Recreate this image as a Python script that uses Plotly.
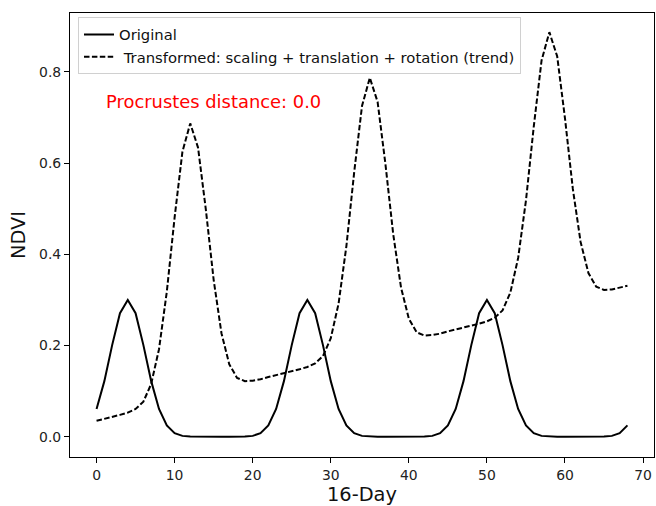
import plotly.graph_objects as go

days = list(range(69))

original = [
    0.061, 0.122, 0.201, 0.271, 0.300, 0.271, 0.201, 0.122, 0.061, 0.025,
    0.008, 0.002, 0.0005, 0.0, 0.0, 0.0, 0.0, 0.0, 0.0, 0.0005,
    0.002, 0.008, 0.025, 0.061, 0.122, 0.201, 0.271, 0.300, 0.271, 0.201,
    0.122, 0.061, 0.025, 0.008, 0.002, 0.0005, 0.0, 0.0, 0.0, 0.0,
    0.0, 0.0, 0.0005, 0.002, 0.008, 0.025, 0.061, 0.122, 0.201, 0.271,
    0.300, 0.271, 0.201, 0.122, 0.061, 0.025, 0.008, 0.002, 0.0005, 0.0,
    0.0, 0.0, 0.0, 0.0, 0.0, 0.0005, 0.002, 0.008, 0.025,
]

transformed = [
    0.035, 0.039, 0.044, 0.048, 0.053, 0.061, 0.077, 0.116, 0.192, 0.318,
    0.481, 0.625, 0.687, 0.634, 0.498, 0.344, 0.227, 0.159, 0.129, 0.122,
    0.123, 0.126, 0.131, 0.135, 0.139, 0.144, 0.148, 0.153, 0.161, 0.177,
    0.216, 0.292, 0.418, 0.580, 0.725, 0.787, 0.734, 0.598, 0.444, 0.327,
    0.259, 0.229, 0.222, 0.223, 0.226, 0.231, 0.235, 0.240, 0.244, 0.248,
    0.253, 0.261, 0.277, 0.316, 0.392, 0.518, 0.680, 0.825, 0.887, 0.834,
    0.698, 0.544, 0.427, 0.359, 0.329, 0.322, 0.323, 0.327, 0.331,
]

x_ticks = [0, 10, 20, 30, 40, 50, 60, 70]
y_ticks = [0.0, 0.2, 0.4, 0.6, 0.8]
y_tick_text = ["0.0", "0.2", "0.4", "0.6", "0.8"]

font_family = "DejaVu Sans"

fig = go.Figure()
fig.add_trace(go.Scatter(
    x=days, y=original, mode="lines", name="Original", legendgroup="a",
    line=dict(color="black", width=2),
))
fig.add_trace(go.Scatter(
    x=days, y=transformed, mode="lines", legendgroup="b",
    name=" Transformed: scaling + translation + rotation (trend)",
    line=dict(color="black", width=2, dash="5.5px,2.4px"),
))

fig.add_annotation(
    x=1, y=0.735, xref="x", yref="y", text="Procrustes distance: 0.0",
    showarrow=False, xanchor="left", yanchor="middle",
    font=dict(family=font_family, size=17.9, color="red"),
)

axis_common = dict(
    showline=True, linecolor="black", linewidth=1.1, mirror=True,
    ticks="outside", ticklen=5, tickwidth=1.1, tickcolor="black",
    showgrid=False, zeroline=False, automargin=False,
    tickfont=dict(family=font_family, size=13.9, color="#222"),
)

fig.update_xaxes(
    range=[-3.4, 71.4], tickvals=x_ticks,
    title=dict(text="16-Day", font=dict(family=font_family, size=19.4, color="#111"), standoff=4),
    **axis_common,
)
fig.update_yaxes(
    range=[-0.0443, 0.929], tickvals=y_ticks, ticktext=y_tick_text,
    title=dict(text="NDVI", font=dict(family=font_family, size=19.4, color="#111"), standoff=8),
    **axis_common,
)

fig.update_layout(
    width=656, height=506,
    margin=dict(l=70, r=2, t=13, b=49),
    paper_bgcolor="white", plot_bgcolor="white",
    showlegend=True,
    legend=dict(
        x=0.0137, y=0.99, xanchor="left", yanchor="top",
        bgcolor="rgba(255,255,255,0.8)", bordercolor="#d0d0d0", borderwidth=1,
        font=dict(family=font_family, size=14.8, color="#111"),
        traceorder="grouped", tracegroupgap=0, itemwidth=30,
    ),
)

fig.write_html(
    "out.html",
    config={"displayModeBar": False},
    post_script="document.body.style.margin='0';document.body.style.overflow='hidden';",
)
